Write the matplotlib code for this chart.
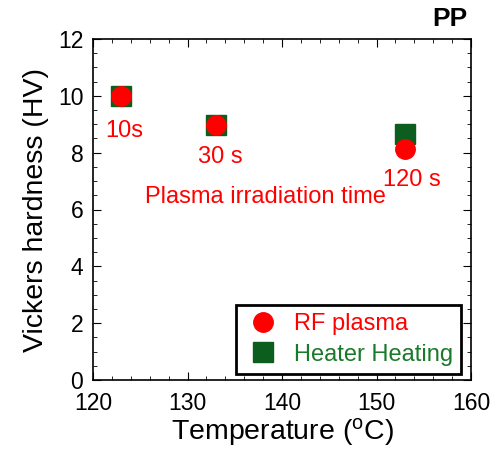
import matplotlib.pyplot as plt
from matplotlib.ticker import MultipleLocator

plt.rcParams['font.family'] = ['Liberation Sans', 'DejaVu Sans']

# temperatures and hardness values
temp = [123, 133, 153]
hv_plasma = [10.0, 8.97, 8.12]
hv_heater = [10.0, 8.97, 8.66]
times = ["10s", "30 s", "120 s"]
# where the time labels sit (x, baseline y)
time_pos = [(123.35, 8.55), (133.5, 7.64), (153.75, 6.83)]

red = "#ff0000"
green = "#0b5e1e"

fig = plt.figure(figsize=(5, 4.55), dpi=100)
ax = fig.add_axes([93/500, 1 - 380/455, 378/500, 341/455])

ax.plot(temp, hv_heater, "s", color=green, markersize=14, label="Heater Heating", zorder=2)
ax.plot(temp, hv_plasma, "o", color=red, markersize=14, label="RF plasma", zorder=3)

for lab, (x, y) in zip(times, time_pos):
    ax.text(x, y, lab, color=red, fontsize=17, ha="center", va="baseline")
ax.text(138.2, 6.24, "Plasma irradiation time", color=red, fontsize=17, ha="center", va="baseline")

ax.set_xlim(120, 160)
ax.set_ylim(0, 12)
ax.xaxis.set_major_locator(MultipleLocator(10))
ax.xaxis.set_minor_locator(MultipleLocator(2))
ax.yaxis.set_major_locator(MultipleLocator(2))
ax.yaxis.set_minor_locator(MultipleLocator(0.5))
ax.tick_params(which="both", direction="in", top=True, right=True, labelsize=16.5)
ax.tick_params(axis="x", which="major", pad=9)
ax.tick_params(axis="y", which="major", pad=7)
ax.tick_params(which="major", length=6)
ax.tick_params(which="minor", length=3)
for s in ax.spines.values():
    s.set_linewidth(1.2)

ax.set_xlabel("Temperature ($\\mathregular{^oC}$)", fontsize=20.5, labelpad=0)
ax.set_ylabel("Vickers hardness (HV)", fontsize=20.5, labelpad=6)

fig.text(0.9, 0.958, "PP", fontsize=19, fontweight="bold", ha="center", va="center")

handles, labels = ax.get_legend_handles_labels()
leg = ax.legend(handles[::-1], labels[::-1], loc="lower right", fontsize=17,
                frameon=True, fancybox=False, edgecolor="black", framealpha=1,
                borderpad=0.35, handletextpad=0.5, labelspacing=0.35,
                handlelength=1.6, borderaxespad=0,
                bbox_to_anchor=(1 - 10/378, 6/341))
leg.get_frame().set_linewidth(2)
leg.texts[0].set_color(red)
leg.texts[1].set_color("#1a7a2a")

fig.savefig("out.png", dpi=100)
